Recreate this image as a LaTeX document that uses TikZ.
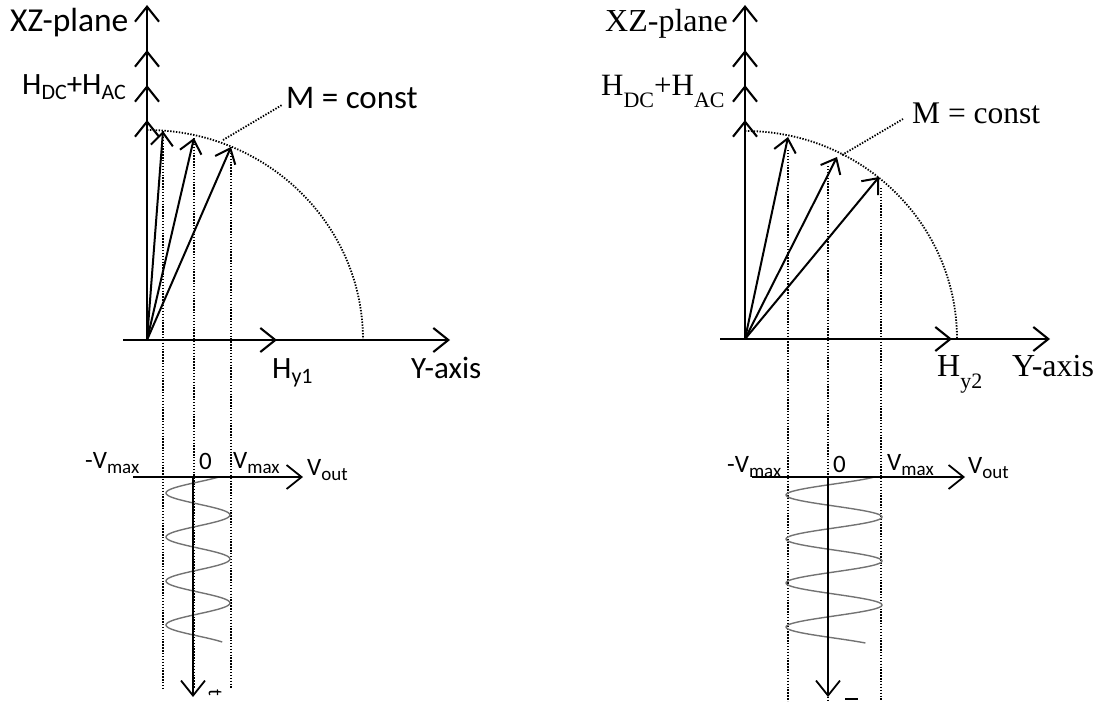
\documentclass[tikz,border=0pt]{standalone}
\usepackage{fontspec}
\setmainfont{Carlito}
\newfontfamily\tms{Liberation Serif}
\usetikzlibrary{arrows.meta}
\newcommand\subL[1]{\raisebox{-5pt}{\fontsize{22}{22}\selectfont #1}}
\newcommand\subB[1]{\raisebox{-5pt}{\fontsize{19}{19}\selectfont #1}}
\newcommand\subT[1]{\raisebox{-12pt}{\fontsize{22}{22}\selectfont #1}}
\begin{document}
\begin{tikzpicture}[x=1pt,y=-1pt,
  ax/.style={line width=2.1pt,-{Straight Barb[length=15pt,width=24pt]}},
  vec/.style={line width=2pt,-{Straight Barb[length=13pt,width=22pt]}},
  dots/.style={line width=1.8pt,dash pattern=on 1.4pt off 1.5pt},
  wave/.style={black!55,line width=1.4pt},
  lbl/.style={inner sep=0pt,anchor=base west,font=\fontsize{32}{32}\selectfont},
  tlbl/.style={inner sep=0pt,anchor=base west,font=\tms\fontsize{32}{32}\selectfont},
  blbl/.style={inner sep=0pt,anchor=base west,font=\fontsize{25}{25}\selectfont}]
\useasboundingbox (0,0) rectangle (1110,701);

% ================= LEFT =================
\coordinate (LO) at (147,340);
\coordinate (LA1) at (147,5);
\coordinate (LA2) at (147,50);
\coordinate (LA3) at (147,85);
\coordinate (LA4) at (147,120);
\coordinate (LX0) at (123,340);
\coordinate (LXh) at (277,340);
\coordinate (LXe) at (450,340);
\coordinate (LT1) at (163,131);
\coordinate (LT2) at (194,138);
\coordinate (LT3) at (231,147);
\coordinate (LTop) at (147,130);

\draw[dots] (LTop) arc[start angle=-90,end angle=0,x radius=216,y radius=210];
\foreach \p in {LA1,LA2,LA3,LA4} \draw[ax] (LO) -- (\p);
\draw[ax] (LX0) -- (LXh);
\draw[ax] (LX0) -- (LXe);
\foreach \p in {LT1,LT2,LT3} \draw[vec] (LO) -- (\p);
\draw[dots] (LT1) -- (163,688);
\draw[dots] (LT2) -- (194,688);
\draw[dots] (LT3) -- (231,688);
\coordinate (LM1) at (223,140);
\coordinate (LM2) at (282,105);
\draw[dots] (LM1) -- (LM2);

\node[lbl,font=\fontsize{33.5}{33.5}\selectfont] (lxz) at (10,32) {XZ-plane};
\node[lbl,font=\fontsize{31}{31}\selectfont] (lh) at (22,94) {H\subL{DC}+H\subL{AC}};
\node[lbl,font=\fontsize{33}{33}\selectfont] (lm) at (286,108) {M = const};
\node[lbl,font=\fontsize{31}{31}\selectfont] (lhy) at (272,378) {H\subL{y1}};
\node[lbl,font=\fontsize{31}{31}\selectfont] (lya) at (411,378) {Y-axis};

% bottom left
\coordinate (LV0) at (133,477);
\coordinate (LVe) at (303,477);
\coordinate (Lt0) at (193,477);
\coordinate (Lte) at (193,697);
\draw[wave] plot[domain=477:642,samples=220,smooth] ({198-32*sin(8.1818*(\x-482))},\x);
\draw[ax,line width=1.8pt] (LV0) -- (LVe);
\draw[ax,line width=1.8pt] (Lt0) -- (Lte);
\node[blbl] (lvm) at (85,468) {-V\subB{max}};
\node[blbl] (l0) at (199,469) {0};
\node[blbl] (lvp) at (233,468) {V\subB{max}};
\node[blbl] (lvo) at (307,475) {V\subB{out}};
\node[inner sep=0pt,font=\fontsize{20}{20}\selectfont,rotate=-90,anchor=center] (ltt) at (215,693) {t};

% ================= RIGHT =================
\coordinate (RO) at (745,339);
\coordinate (RA1) at (745,5);
\coordinate (RA2) at (745,50);
\coordinate (RA3) at (745,85);
\coordinate (RA4) at (745,120);
\coordinate (RX0) at (720,339);
\coordinate (RXh) at (952,339);
\coordinate (RXe) at (1050,339);
\coordinate (RT1) at (788,137);
\coordinate (RT2) at (837,157);
\coordinate (RT3) at (879,177);
\coordinate (RTop) at (745,131);

\draw[dots] (RTop) arc[start angle=-90,end angle=0,x radius=212,y radius=208];
\foreach \p in {RA1,RA2,RA3,RA4} \draw[ax] (RO) -- (\p);
\draw[ax] (RX0) -- (RXh);
\draw[ax] (RX0) -- (RXe);
\foreach \p in {RT1,RT2,RT3} \draw[vec] (RO) -- (\p);
\draw[dots] (788,150) -- (788,701);
\draw[dots] (828,166) -- (828,701);
\draw[dots] (881,188) -- (881,701);
\coordinate (RM1) at (842,155);
\coordinate (RM2) at (903,119);
\draw[dots] (RM1) -- (RM2);

\node[tlbl] (rxz) at (605,32) {XZ-plane};
\node[tlbl,font=\tms\fontsize{31}{31}\selectfont] (rh) at (601,95) {H\subT{DC}+H\subT{AC}};
\node[tlbl,font=\tms\fontsize{31.5}{31.5}\selectfont] (rm) at (912,123) {M = const};
\node[tlbl] (rhy) at (937,376) {H\subT{y2}};
\node[tlbl] (rya) at (1012,376) {Y-axis};

% bottom right
\coordinate (RV0) at (752,477);
\coordinate (RVe) at (965,477);
\coordinate (Rt0) at (828,477);
\coordinate (Rte) at (828,697);
\draw[wave] plot[domain=477:643,samples=220,smooth] ({834-48*sin(8.1818*(\x-484))},\x);
\draw[ax,line width=1.8pt] (RV0) -- (RVe);
\draw[ax,line width=1.8pt] (Rt0) -- (Rte);
\node[blbl] (rvm) at (727,472) {-V\subB{max}};
\node[blbl] (r0) at (833,472) {0};
\node[blbl] (rvp) at (887,470) {V\subB{max}};
\node[blbl] (rvo) at (968,473) {V\subB{out}};
\coordinate (Rd1) at (845,699);
\coordinate (Rd2) at (858,699);
\draw[line width=2.5pt] (Rd1) -- (Rd2);
\end{tikzpicture}
\end{document}
